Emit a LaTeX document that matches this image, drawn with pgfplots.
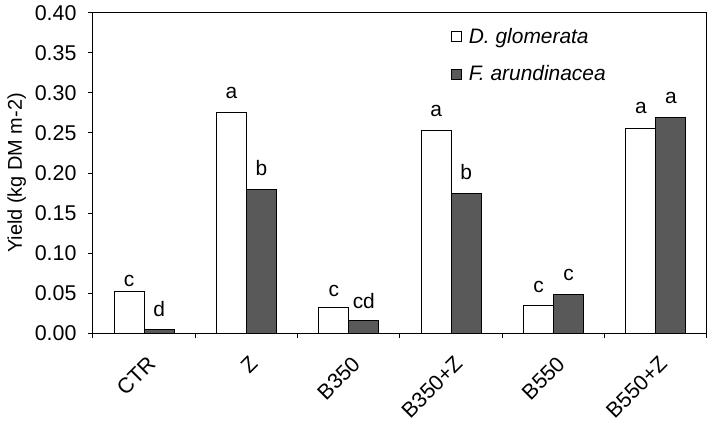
\documentclass[border=0pt]{standalone}
\usepackage{pgfplots}
\pgfplotsset{compat=1.18}
\usepackage{pgfplotstable}
\usepackage{fontspec}
\setmainfont{Liberation Sans}
\definecolor{darkbar}{HTML}{595959}

% x = category index, y = yield, lab = letter, off = gap above bar (bp)
\pgfplotstableread{
x y lab off
0 0.052 c 5
1 0.276 a 14
2 0.032 c 11
3 0.253 a 14
4 0.035 c 13
5 0.256 a 15
}\dglom
\pgfplotstableread{
x y lab off
0 0.005 d 13
1 0.180 b 13
2 0.016 cd 12
3 0.175 b 13
4 0.048 c 14
5 0.269 a 14
}\farun

\begin{document}
\begin{tikzpicture}
\useasboundingbox (-93bp,-92bp) rectangle (617bp,333bp);
\begin{axis}[
    at={(0,0)}, anchor=south west,
    scale only axis,
    width=614bp, height=320bp,
    ybar=0pt,
    bar width=30bp,
    xmin=-0.5, xmax=5.5,
    ymin=0, ymax=0.4,
    ytick={0,0.05,0.1,0.15,0.2,0.25,0.3,0.35,0.4},
    xtick={-0.5,0.5,1.5,2.5,3.5,4.5,5.5},
    xticklabels={},
    extra x ticks={0,1,2,3,4,5},
    extra x tick labels={CTR,Z,B350,B350+Z,B550,B550+Z},
    extra x tick style={major tick length=0pt,
        tick label style={xshift=2bp, yshift=-19bp, rotate=45, anchor=north east, inner sep=2bp}},
    tick align=outside,
    tick pos=left,
    major tick length=5bp,
    axis line style={line width=1bp},
    every tick/.style={black, line width=1bp},
    tick label style={font=\fontsize{21.5}{25}\selectfont},
    yticklabel style={xshift=-8bp, /pgf/number format/.cd, fixed, precision=2, fixed zerofill, assume math mode=true},
    ylabel={Yield (kg DM m-2)},
    ylabel style={font=\fontsize{20}{24}\selectfont, yshift=2bp},
    legend style={at={(0.578,0.966)}, anchor=north west, draw=none, fill=none,
        font=\fontsize{21}{25}\selectfont\itshape, row sep=17bp, column sep=5bp,
        cells={anchor=west}},
    legend image code/.code={\draw[#1, line width=0.8bp] (0bp,-5bp) rectangle (10bp,5bp);},
    point meta=explicit symbolic,
    nodes near coords,
    visualization depends on={\thisrow{off} \as \off},
    every node near coord/.append style={font=\fontsize{21}{25}\selectfont, anchor=base, yshift=\off bp, inner sep=0pt},
]
\addplot[fill=white, draw=black, line width=0.8bp] table[x=x, y=y, meta=lab] {\dglom};
\addplot[fill=darkbar, draw=black, line width=0.8bp] table[x=x, y=y, meta=lab] {\farun};
\legend{D. glomerata, F. arundinacea}
\end{axis}
\end{tikzpicture}
\end{document}
